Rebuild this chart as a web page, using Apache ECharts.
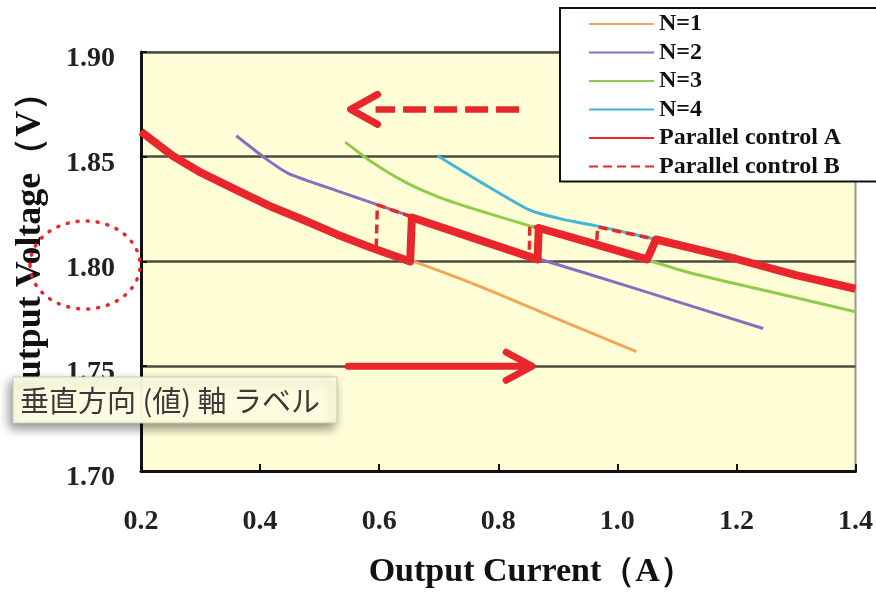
<!DOCTYPE html>
<html>
<head>
<meta charset="utf-8">
<script src="https://cdn.jsdelivr.net/npm/echarts/dist/echarts.min.js"></script>
<style>
  html, body { margin: 0; padding: 0; background: #fff; }
  #chart { width: 876px; height: 594px; }
</style>
</head>
<body>
<div id="chart"></div>
<script>
// x: output current (A), y: output voltage (V)
const xTicks = [0.2, 0.4, 0.6, 0.8, 1.0, 1.2, 1.4]
const yTicks = [1.70, 1.75, 1.80, 1.85, 1.90]

const n1 = [[0.2, 1.862], [0.253, 1.8505], [0.3, 1.8425], [0.365, 1.8335], [0.42, 1.826], [0.477, 1.8193], [0.53, 1.8128], [0.587, 1.8066], [0.653, 1.8005], [0.77, 1.788], [0.9, 1.7725], [1.032, 1.757]]
const n2 = [[0.36, 1.86], [0.41, 1.849], [0.448, 1.842], [0.532, 1.8335], [0.598, 1.827], [0.648, 1.822], [0.75, 1.812], [0.866, 1.8015], [0.877, 1.8005], [1.02, 1.788], [1.245, 1.768]]
const n3 = [[0.543, 1.857], [0.587, 1.8476], [0.643, 1.838], [0.698, 1.831], [0.76, 1.825], [0.853, 1.817], [0.868, 1.816], [0.96, 1.8085], [1.05, 1.801], [1.053, 1.8005], [1.13, 1.794], [1.25, 1.786], [1.4, 1.776]]
const n4 = [[0.698, 1.8505], [0.77, 1.838], [0.853, 1.8245], [0.91, 1.82], [0.965, 1.817], [1.053, 1.8113], [1.065, 1.8105], [1.2, 1.8012], [1.3, 1.7935], [1.4, 1.787]]
const controlA = [[0.2, 1.862], [0.253, 1.8505], [0.3, 1.8425], [0.365, 1.8335], [0.42, 1.826], [0.477, 1.8193], [0.53, 1.8128], [0.587, 1.8066], [0.652, 1.8], [0.655, 1.821], [0.75, 1.812], [0.866, 1.801], [0.868, 1.816], [0.96, 1.8085], [1.05, 1.801], [1.065, 1.8105], [1.2, 1.8012], [1.3, 1.7935], [1.4, 1.787]]
const controlB = [[0.2, 1.862], [0.253, 1.8505], [0.3, 1.8425], [0.365, 1.8335], [0.42, 1.826], [0.477, 1.8193], [0.53, 1.8128], [0.595, 1.8058], [0.597, 1.827], [0.648, 1.822], [0.655, 1.821], [0.75, 1.812], [0.852, 1.8023], [0.853, 1.817], [0.868, 1.816], [0.965, 1.808], [0.967, 1.8165], [1.053, 1.8113], [1.065, 1.8105], [1.2, 1.8012], [1.3, 1.7935], [1.4, 1.787]]

// annotation arrows, in data units
const arrowLeft = [[0.835, 1.8726], [0.552, 1.8726]]
const arrowRight = [[0.548, 1.75], [0.857, 1.75]]

const RED = '#e8262b'
const SERIF = '"Liberation Serif", "Times New Roman", serif'

const chart = echarts.init(document.getElementById('chart'))

const thin = (name, data, color) => ({
  name,
  type: 'line',
  data,
  showSymbol: false,
  symbol: 'none',
  smooth: 0.2,
  lineStyle: { color, width: 3 },
  itemStyle: { color }
})

const option = {
  animation: false,
  backgroundColor: '#fff',
  grid: {
    left: 141,
    right: 16,
    top: 52,
    bottom: 118,
    show: true,
    backgroundColor: '#fffed6',
    borderColor: '#9a9a90',
    borderWidth: 2
  },
  legend: {
    orient: 'vertical',
    left: 560,
    top: 8,
    z: 20,
    data: ['N=1', 'N=2', 'N=3', 'N=4', 'Parallel control A', 'Parallel control B'],
    itemWidth: 65,
    itemHeight: 14,
    itemGap: 4.5,
    padding: [4, 40, 3, 28],
    itemStyle: { opacity: 0 },
    backgroundColor: '#fff',
    borderColor: '#111',
    borderWidth: 2,
    textStyle: { fontFamily: SERIF, fontWeight: 'bold', fontSize: 24, color: '#111' }
  },
  xAxis: {
    type: 'value',
    min: 0.2,
    max: 1.4,
    interval: 0.2,
    name: 'Output Current（A）',
    nameLocation: 'middle',
    nameGap: 84,
    nameTextStyle: { fontFamily: SERIF, fontWeight: 'bold', fontSize: 34, color: '#111', verticalAlign: 'top', padding: [0, 0, 0, 66] },
    axisLine: { lineStyle: { color: '#111', width: 3 } },
    axisTick: { inside: true, length: 7, lineStyle: { color: '#111', width: 2 } },
    axisLabel: {
      margin: 37,
      fontFamily: SERIF,
      fontWeight: 'bold',
      fontSize: 28,
      color: '#222',
      formatter: v => xTicks.includes(+v.toFixed(1)) ? v.toFixed(1) : ''
    },
    splitLine: { show: false }
  },
  yAxis: {
    type: 'value',
    min: 1.7,
    max: 1.9,
    interval: 0.05,
    name: 'Output Voltage（V）',
    nameLocation: 'middle',
    nameGap: 92,
    nameTextStyle: { fontFamily: SERIF, fontWeight: 'bold', fontSize: 36, color: '#111', padding: [0, 0, 0, 40] },
    axisLine: { show: true, lineStyle: { color: '#111', width: 3 } },
    axisTick: { show: true, inside: true, length: 6, lineStyle: { color: '#111', width: 2 } },
    axisLabel: {
      margin: 26,
      verticalAlign: 'top',
      lineHeight: 14,
      fontFamily: SERIF,
      fontWeight: 'bold',
      fontSize: 28,
      color: '#222',
      formatter: v => yTicks.includes(+v.toFixed(2)) ? v.toFixed(2) : ''
    },
    splitLine: { show: true, lineStyle: { color: '#4b4b3e', width: 2.5 } }
  },
  series: [
    thin('N=1', n1, '#f5a55a'),
    thin('N=2', n2, '#8a6dc0'),
    thin('N=3', n3, '#8fcc4e'),
    thin('N=4', n4, '#43b6d6'),
    {
      name: 'Parallel control B',
      type: 'line',
      data: controlB,
      showSymbol: false,
      symbol: 'none',
      z: 3,
      lineStyle: { color: RED, width: 3.5, type: [9, 5] },
      itemStyle: { color: RED }
    },
    {
      name: 'Parallel control A',
      type: 'line',
      data: controlA,
      showSymbol: false,
      symbol: 'none',
      z: 4,
      lineStyle: { color: RED, width: 8, join: 'round' },
      itemStyle: { color: RED }
    }
  ]
}
chart.setOption(option)

// arrows + decorations
const px = p => chart.convertToPixel({ xAxisIndex: 0, yAxisIndex: 0 }, p)
const head = (tip, dir, back, spread) => [
  [tip[0] - dir * back, tip[1] - spread],
  tip,
  [tip[0] - dir * back, tip[1] + spread]
]
const l0 = px(arrowLeft[0]), l1 = px(arrowLeft[1])
const r0 = px(arrowRight[0]), r1 = px(arrowRight[1])

chart.setOption({
  graphic: [
    {
      type: 'line', z: 10,
      shape: { x1: l0[0], y1: l0[1], x2: l1[0] + 25, y2: l1[1] },
      style: { stroke: RED, lineWidth: 6.5, lineDash: [23, 8] }
    },
    {
      type: 'polyline', z: 10,
      shape: { points: head(l1, -1, 27, 15) },
      style: { stroke: RED, lineWidth: 7, lineCap: 'round', lineJoin: 'round', fill: null }
    },
    {
      type: 'line', z: 10,
      shape: { x1: r0[0], y1: r0[1], x2: r1[0] - 4, y2: r1[1] },
      style: { stroke: RED, lineWidth: 7, lineCap: 'round' }
    },
    {
      type: 'polyline', z: 10,
      shape: { points: head(r1, 1, 26, 14) },
      style: { stroke: RED, lineWidth: 7, lineCap: 'round', lineJoin: 'round', fill: null }
    },
    {
      type: 'ellipse', z: 10,
      shape: { cx: 85, cy: 265, rx: 55, ry: 44 },
      style: { stroke: RED, fill: null, lineWidth: 3.5, lineDash: [1, 9], lineCap: 'round' }
    },
    {
      type: 'rect', z: 30,
      shape: { x: 13, y: 377, width: 324, height: 46 },
      style: {
        fill: 'rgba(255,255,226,0.97)',
        stroke: '#c8c8b8',
        lineWidth: 1,
        shadowBlur: 10,
        shadowOffsetX: -3,
        shadowOffsetY: 5,
        shadowColor: 'rgba(0,0,0,0.45)'
      }
    },
    {
      type: 'text', z: 31,
      x: 20, y: 401,
      style: {
        text: '垂直方向 (値) 軸 ラベル',
        font: '29px "Noto Sans CJK JP", sans-serif',
        fill: '#3a3a3a',
        verticalAlign: 'middle'
      }
    }
  ]
})
</script>
</body>
</html>
